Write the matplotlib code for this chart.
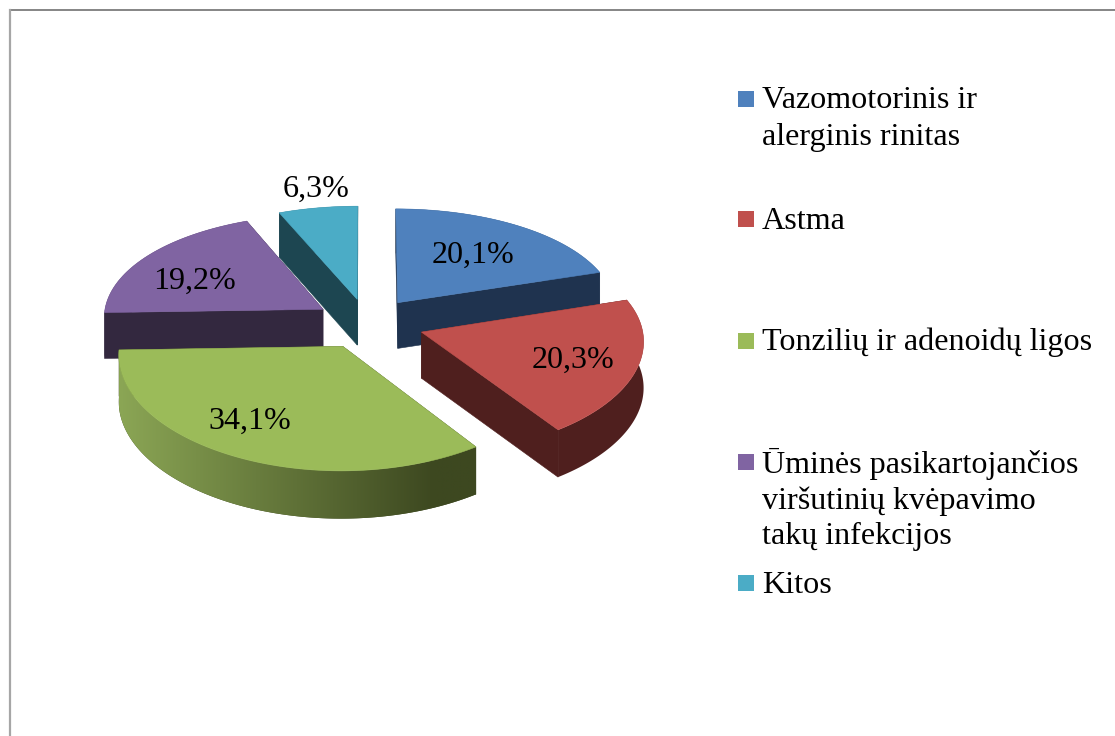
import numpy as np
import matplotlib
matplotlib.use("Agg")
import matplotlib.pyplot as plt
from matplotlib.patches import Polygon, Rectangle
from matplotlib.colors import to_rgb

plt.rcParams["font.family"] = ["Liberation Serif", "DejaVu Serif"]

# Data
shares = [20.1, 20.3, 34.1, 19.2, 6.3]
value_labels = ["20,1%", "20,3%", "34,1%", "19,2%", "6,3%"]
legend_lines = [
    ["Vazomotorinis ir", "alerginis rinitas"],
    ["Astma"],
    ["Tonzilių ir adenoidų ligos"],
    ["Ūminės pasikartojančios", "viršutinių kvėpavimo", "takų infekcijos"],
    ["Kitos"],
]

# Colours
top_colors = ["#4f81bd", "#c0504d", "#9bbb59", "#8064a2", "#4bacc6"]
side_colors = ["#1f334f", "#4f1f1e", "#3f4a22", "#33283f", "#1d4651"]
rim_left = ["#1f334f", "#4f1f1e", "#8ba655", "#33283f", "#1d4651"]
rim_right = ["#1f334f", "#4f1f1e", "#3d4820", "#33283f", "#1d4651"]

# Layout, in pixels
cx, cy = 367, 323
rad_x, rad_y = 220, 107
persp_x, persp_y = 0.07, 0.10
explode = [0.24, 0.26, 0.24, 0.24, 0.23]
depth = 46
label_pos = [(473, 255), (573, 360), (250, 421), (194, 281), (316, 189)]
legend_base = [[108, 145], [229], [350], [473, 509, 544], [593]]
legend_box_y = [91, 211, 333, 454, 575]
font_pt = 32.2 * 72 / 100


def project(u, v):
    px = cx + rad_x * u / (1 + persp_x * v)
    py = cy - rad_y * v / (1 + persp_y * v)
    return px, py, depth / (1 + 0.03 * v)


fig = plt.figure(figsize=(11.15, 7.36), dpi=100)
ax = fig.add_axes([0, 0, 1, 1])

# chart frame
ax.plot([1115, 9.5], [10, 10], color="#858585", lw=1.4)
ax.plot([9.5, 9.5], [10, 736], color="#a6a6a6", lw=1.6)

edges = np.radians(np.cumsum([0] + shares) / sum(shares) * 360)

# back slices first so the front ones cover them
z = 2
for i in [0, 4, 3, 1, 2]:
    a0, a1 = edges[i], edges[i + 1]
    mid = (a0 + a1) / 2
    ang = np.linspace(a0, a1, 140)
    off_u, off_v = explode[i] * np.sin(mid), explode[i] * np.cos(mid)
    px, py, pd = project(off_u, off_v)
    x, y, d = project(off_u + np.sin(ang), off_v + np.cos(ang))

    # cut faces
    for k in [0, -1]:
        face = [(px, py), (x[k], y[k]), (x[k], y[k] + d[k]), (px, py + pd)]
        ax.add_patch(Polygon(face, closed=True, fc=side_colors[i],
                             ec=side_colors[i], lw=0.4, zorder=z))
    z += 1

    # outer rim, shaded left to right where the colours differ
    rim = list(zip(x, y)) + list(zip(x[::-1], (y + d)[::-1]))
    base = ax.add_patch(Polygon(rim, closed=True, fc=side_colors[i],
                                ec="none", zorder=z))
    z += 1
    if rim_left[i] != rim_right[i]:
        t = np.clip(np.linspace(0, 1 / 0.88, 400), 0, 1)[None, :, None]
        grad = np.array(to_rgb(rim_left[i])) * (1 - t) + np.array(to_rgb(rim_right[i])) * t
        im = ax.imshow(grad, extent=(x.min(), x.max(), (y + d).max(), y.min()),
                       aspect="auto", interpolation="bilinear", zorder=z)
        im.set_clip_path(base)
        z += 1

    # top face
    top = [(px, py)] + list(zip(x, y))
    ax.add_patch(Polygon(top, closed=True, fc=top_colors[i], ec=top_colors[i],
                         lw=0.4, zorder=z))
    z += 1

for txt, (lx, ly) in zip(value_labels, label_pos):
    ax.text(lx, ly, txt, ha="center", va="center", fontsize=font_pt,
            color="black", zorder=z)

# legend
for lines, bases, by, col in zip(legend_lines, legend_base, legend_box_y, top_colors):
    ax.add_patch(Rectangle((738, by), 16, 16, fc=col, ec="none", zorder=z))
    for line, base_y in zip(lines, bases):
        ax.text(762, base_y, line, ha="left", va="baseline", fontsize=font_pt,
                color="black", zorder=z)

ax.set_xlim(0, 1115)
ax.set_ylim(736, 0)
ax.axis("off")

fig.savefig("out.png", dpi=100)
